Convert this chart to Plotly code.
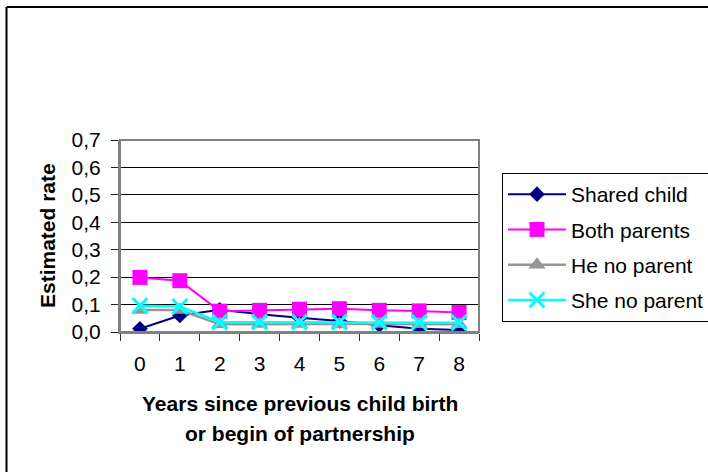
import plotly.graph_objects as go

years = ["0", "1", "2", "3", "4", "5", "6", "7", "8"]
shared_child = [0.012, 0.060, 0.081, 0.065, 0.052, 0.040, 0.025, 0.012, 0.007]
both_parents = [0.199, 0.187, 0.076, 0.079, 0.083, 0.085, 0.079, 0.077, 0.071]
he_no_parent = [0.080, 0.080, 0.028, 0.029, 0.029, 0.029, 0.029, 0.028, 0.028]
she_no_parent = [0.096, 0.093, 0.036, 0.036, 0.036, 0.036, 0.035, 0.035, 0.034]
y_ticks = [0.0, 0.1, 0.2, 0.3, 0.4, 0.5, 0.6, 0.7]

W, H = 708, 472
L, R, T, B = 120, 229, 140, 140
pw, ph = W - L - R, H - T - B

def px(x):
    return (x - L) / pw

def py(y):
    return (H - B - y) / ph

FONT = "Liberation Sans, Arial, sans-serif"

series = [
    ("Shared child", shared_child, "#000080", "diamond", 12, 2),
    ("Both parents", both_parents, "#FF00FF", "square", 15, 2),
    ("He no parent", he_no_parent, "#969696", "triangle-up", 15, 2.5),
    ("She no parent", she_no_parent, "#00FFFF", "x-thin", 15, 2.5),
]

fig = go.Figure()
for i, (name, vals, col, sym, size, lw) in enumerate(series):
    marker = dict(symbol=sym, size=size, color=col)
    if sym == "x-thin":
        marker["line"] = dict(color=col, width=3)
    fig.add_trace(go.Scatter(
        x=years, y=vals, name=name, mode="lines+markers",
        line=dict(color=col, width=lw), marker=marker,
        legendgroup=f"g{i}",
    ))

fig.update_layout(
    width=W, height=H,
    margin=dict(l=L, r=R, t=T, b=B, autoexpand=False),
    paper_bgcolor="white", plot_bgcolor="white",
    separators=", ",
    font=dict(family=FONT, size=21, color="black"),
    showlegend=True,
    legend=dict(
        x=px(502), y=py(173), xanchor="left", yanchor="top",
        bgcolor="white", bordercolor="black", borderwidth=1,
        font=dict(size=21), itemwidth=58, tracegroupgap=5,
        itemclick=False,
    ),
    xaxis=dict(
        type="category", range=[-0.5, 8.5], tickson="boundaries",
        ticks="outside", ticklen=7, tickcolor="#333", tickwidth=1,
        showgrid=False, showline=True, linecolor="#808080", linewidth=2,
        ticklabelstandoff=12, zeroline=False, fixedrange=True,
    ),
    yaxis=dict(
        range=[0, 0.7], tickvals=y_ticks, tickformat=".1f",
        ticks="outside", ticklen=7, tickcolor="#222", tickwidth=1,
        showgrid=True, gridcolor="black", gridwidth=1,
        showline=True, linecolor="#808080", linewidth=2,
        ticklabelstandoff=6, zeroline=False, fixedrange=True,
    ),
    shapes=[
        dict(type="rect", xref="paper", yref="paper", x0=0, x1=1, y0=0, y1=1,
             line=dict(color="#808080", width=2), layer="above"),
        dict(type="line", xref="paper", yref="paper",
             x0=px(6.5), x1=px(6.5), y0=py(7), y1=py(490),
             line=dict(color="black", width=2)),
        dict(type="line", xref="paper", yref="paper",
             x0=px(6.5), x1=px(730), y0=py(7), y1=py(7),
             line=dict(color="black", width=2)),
    ],
    annotations=[
        dict(text="<b>Estimated rate</b>", xref="paper", yref="paper",
             x=px(47), y=py(236), textangle=-90, showarrow=False,
             xanchor="center", yanchor="middle", font=dict(size=21)),
        dict(text="<b>Years since previous child birth</b>", xref="paper", yref="paper",
             x=px(299.5), y=py(403), showarrow=False,
             xanchor="center", yanchor="middle", font=dict(size=21)),
        dict(text="<b>or begin of partnership</b>", xref="paper", yref="paper",
             x=px(299.5), y=py(433), showarrow=False,
             xanchor="center", yanchor="middle", font=dict(size=21)),
    ],
)

fig.write_html(
    "out.html",
    config={"displayModeBar": False},
    post_script="document.body.style.margin='0';document.body.style.padding='0';",
)
